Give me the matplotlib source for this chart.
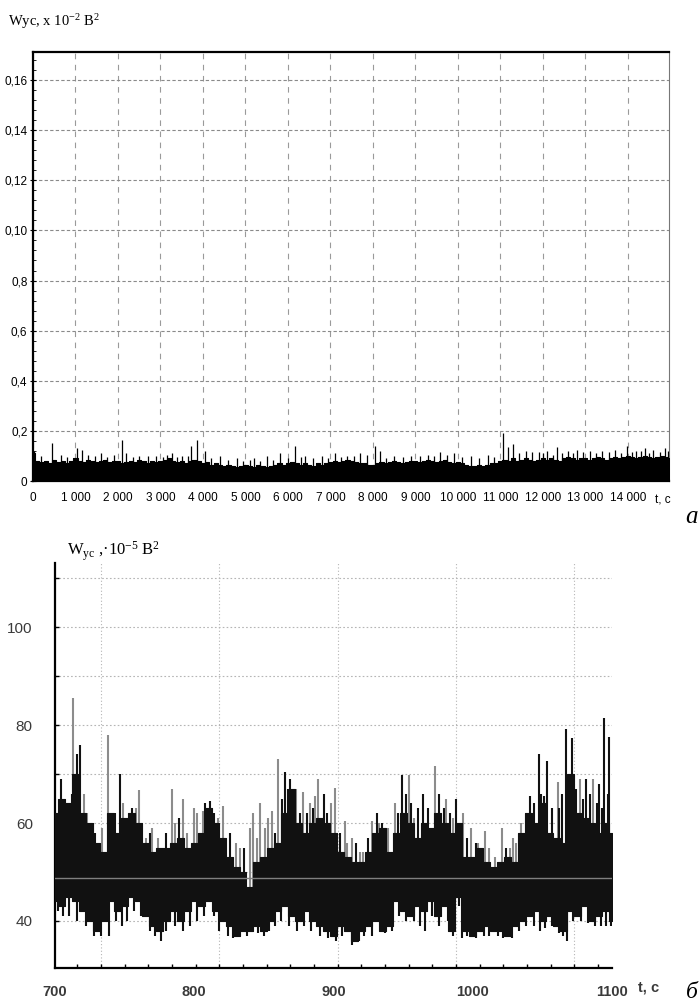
import numpy as np
import matplotlib.pyplot as plt

plt.rcParams['mathtext.fontset'] = 'custom'
plt.rcParams['mathtext.rm'] = 'Liberation Serif'
plt.rcParams['mathtext.it'] = 'Liberation Serif:italic'

# ---- panel a: W_yc over the whole record (axis units: the "0,2" grid line = 20)
step_a = 100
t_a = np.arange(0, 15001, step_a)
w_a = [11, 8, 7.5, 8, 7, 8.5, 7.5, 8, 7, 8,
       9, 8, 7.5, 8.5, 8, 7.5, 8, 8.5, 7.5, 8,
       8, 7, 7.5, 8, 7.5, 8.5, 8, 7, 8, 7.5,
       8, 8.5, 9, 8, 7.5, 8, 7, 8, 8.5, 8,
       7, 7.5, 6.5, 7, 6.5, 6, 6.5, 6, 5.5, 6,
       6.5, 6, 5.5, 6.5, 6, 5.5, 6, 6.5, 7, 6.5,
       7, 7.5, 7, 6.5, 7, 6.5, 6, 7, 6.5, 7,
       7.5, 8, 7.5, 8, 8.5, 8, 7.5, 7, 7, 6.5,
       6.5, 7, 7.5, 7, 7.5, 8, 7.5, 7, 7.5, 8,
       8, 7.5, 8, 8.5, 8, 7.5, 8, 8.5, 7.5, 7,
       7.5, 7, 6.5, 6, 6, 6.5, 6, 6.5, 7, 7,
       8, 8.5, 8, 9, 8, 8.5, 9, 8.5, 8, 8.5,
       9, 8.5, 9, 8.5, 8, 9, 9.5, 9, 8.5, 9,
       9, 8.5, 9, 9.5, 9, 8.5, 9, 9.5, 9, 9.5,
       10, 9.5, 9, 9.5, 10, 9.5, 9, 9.5, 10, 9.5, 9]
spk_a_t = [30, 450, 1035, 1150, 1300, 1600, 2090, 2190, 2500, 2900, 3260, 3500,
           3730, 3870, 4050, 4400, 4800, 5200, 5500, 5810, 6160, 6400, 6800,
           7100, 7400, 7700, 8050, 8170, 8500, 8900, 9300, 9580, 9900, 10300,
           10700, 11060, 11180, 11300, 11600, 11900, 12100, 12330, 12600,
           12800, 13100, 13400, 13700, 13980, 14200, 14400, 14600, 14870, 14950,
           200, 650, 800, 1450, 1750, 1900, 2350, 2700, 3050, 3150, 3400, 3650,
           4200, 4600, 4950, 5100, 5350, 5650, 6000, 6300, 6600, 6950, 7250,
           7550, 7850, 8300, 8700, 9100, 9450, 9750, 10100, 10500, 10850, 11450,
           11750, 12000, 12250, 12450, 12700, 12950, 13250, 13550, 13850, 14100,
           14300, 14500, 14750]
spk_a_v = [12, 15, 13, 12.5, 10.5, 11, 16.4, 11, 10, 10, 11, 10,
           14, 16.5, 12, 10, 9, 9, 10, 11, 14, 10, 10,
           11, 10, 11, 14, 12, 10, 10, 10.5, 11.5, 11, 10,
           10.5, 19, 13.5, 14.7, 12, 11.5, 12, 13.5, 12,
           12.5, 12, 12, 12.5, 14, 12, 13, 12.5, 13, 12,
           10, 10.5, 9.5, 10, 9.5, 10.5, 9.5, 10, 9.5, 10.5, 9.5, 10,
           9, 8.5, 8, 8.5, 8, 8.5, 9, 9.5, 9, 9, 9.5,
           10, 10.5, 9, 9.5, 10, 10, 10.5, 9.5, 9, 9.5, 11,
           11.5, 11, 10.5, 11, 11, 11.5, 11, 11.5, 11, 11.5,
           12, 11, 11.5]
yt_a = [0, 20, 40, 60, 80, 100, 120, 140, 160]
yl_a = ['0', '0,2', '0,4', '0,6', '0,8', '0,10', '0,12', '0,14', '0,16']
xt_a = list(range(0, 15000, 1000))
xl_a = ['0', '1 000', '2 000', '3 000', '4 000', '5 000', '6 000', '7 000',
        '8 000', '9 000', '10 000', '11 000', '12 000', '13 000', '14 000']

# ---- panel б: zoom 700..1100 s, units 10^-5 B^2
step_b = 5
t_b = np.arange(700, 1101, step_b)
up_b = [62, 65, 64, 70, 62, 60, 56, 54, 62, 58,
        61, 62, 60, 56, 54, 55, 55, 56, 57, 55,
        56, 58, 63, 60, 57, 53, 51, 50, 47, 52,
        53, 55, 56, 62, 67, 60, 58, 60, 61, 60,
        58, 54, 53, 52, 52, 54, 58, 59, 54, 58,
        62, 60, 57, 60, 59, 62, 60, 58, 60, 53,
        53, 55, 52, 51, 52, 53, 52, 58, 62, 60,
        64, 58, 57, 56, 70, 62, 61, 60, 58, 60, 58]
lo_b = [44, 43, 45, 44, 42, 40, 38, 40, 44, 42,
        43, 45, 44, 41, 39, 38, 40, 42, 40, 42,
        44, 43, 44, 42, 40, 39, 37, 38, 38, 39,
        38, 40, 42, 43, 41, 40, 42, 40, 39, 38,
        37, 39, 38, 36, 38, 39, 40, 38, 39, 44,
        42, 41, 43, 42, 44, 41, 43, 38, 45, 38,
        37, 38, 39, 38, 38, 37, 39, 40, 41, 42,
        40, 41, 39, 38, 42, 41, 43, 40, 41, 42, 40]
spk_b = [(704, 69, 'k'), (709, 64, 'g'), (713, 85.5, 'g'), (716, 74, 'k'),
         (718, 76, 'k'), (723, 62, 'g'), (727, 60, 'g'), (731, 56, 'g'),
         (734, 59, 'g'), (738, 78, 'g'), (743, 62, 'k'), (747, 70, 'k'),
         (755, 63, 'k'), (760, 66.7, 'g'), (765, 57, 'g'), (770, 59, 'g'),
         (784, 67, 'g'), (789, 61, 'k'), (792, 65, 'g'), (800, 63, 'g'),
         (802, 62, 'g'), (806, 62.5, 'g'), (811, 64.4, 'k'), (821, 63.5, 'g'),
         (826, 58, 'k'), (833, 55, 'g'), (840, 59, 'g'), (842, 62, 'g'),
         (847, 64, 'g'), (851, 59, 'g'), (853, 61, 'g'), (856, 62.4, 'g'),
         (860, 73, 'g'), (865, 70.5, 'k'), (869, 69, 'k'), (873, 67, 'g'),
         (878, 66.4, 'g'), (883, 64, 'g'), (887, 65.5, 'g'), (889, 69, 'g'),
         (893, 66, 'k'), (898, 64, 'g'), (901, 67.2, 'g'), (908, 60.5, 'g'),
         (913, 57, 'g'), (919, 54, 'g'), (921, 54, 'g'), (928, 60.5, 'g'),
         (933, 60, 'g'), (935, 60, 'k'), (944, 64, 'g'), (949, 69.8, 'k'),
         (954, 69.8, 'g'), (958, 61, 'g'), (964, 66, 'k'), (973, 71.7, 'g'),
         (976, 66, 'k'), (981, 65, 'g'), (984, 62, 'k'), (988, 65, 'k'),
         (993, 62, 'g'), (999, 59, 'g'), (1004, 56, 'g'), (1009, 58.4, 'g'),
         (1016, 53, 'g'), (1021, 59, 'g'), (1027, 55, 'g'), (1031, 56, 'g'),
         (1033, 55, 'g'), (1037, 57, 'g'), (1041, 65.6, 'k'), (1047.5, 74, 'k'),
         (1051, 65.6, 'k'), (1053.5, 72.7, 'k'), (1061, 68.4, 'g'), (1062, 63, 'k'),
         (1067, 79.3, 'k'), (1071, 77.3, 'k'), (1077, 69, 'g'), (1081, 69, 'k'),
         (1086, 69, 'g'), (1091, 68, 'k'), (1094.5, 81.5, 'k'), (1098, 77.6, 'k'),
         (712, 66, 'k'), (721, 66, 'g'), (729, 58, 'k'), (749, 64, 'g'),
         (758, 63, 'g'), (762, 60, 'k'), (768, 58, 'k'), (774, 57, 'g'),
         (780, 58, 'k'), (786, 60, 'g'), (795, 58, 'g'), (808, 64, 'k'),
         (814, 62, 'k'), (817, 61, 'g'), (830, 56, 'g'), (836, 55, 'k'),
         (845, 57, 'g'), (858, 58, 'k'), (863, 65, 'k'), (867, 67, 'k'),
         (876, 62, 'k'), (881, 62, 'k'), (885, 63, 'k'), (895, 62, 'k'),
         (905, 58, 'k'), (910, 56, 'g'), (916, 56, 'k'), (925, 57, 'k'),
         (931, 62, 'k'), (939, 59, 'g'), (946, 62, 'k'), (952, 66, 'k'),
         (956, 64, 'k'), (961, 63, 'k'), (968, 63, 'k'), (979, 63, 'k'),
         (986, 61, 'g'), (996, 57, 'k'), (1002, 56, 'k'), (1012, 55, 'g'),
         (1024, 55, 'k'), (1029, 57, 'g'), (1035, 60, 'g'), (1039, 62, 'k'),
         (1044, 64, 'k'), (1049, 66, 'k'), (1057, 63, 'k'), (1064, 66, 'k'),
         (1069, 70, 'k'), (1074, 67, 'k'), (1079, 65, 'k'), (1084, 66, 'k'),
         (1089, 64, 'k'), (1093, 63, 'k'), (1097, 66, 'k')]
dip_b = [(706, 41), (739, 37), (752, 40), (776, 36), (797, 39), (838, 37),
         (862, 40), (913, 35), (937, 37.5), (966, 38), (992, 36.5), (1018, 37),
         (1044, 39), (1065, 37), (1088, 39),
         (702, 42), (710, 41), (716, 40), (722, 39), (728, 37), (733, 37),
         (744, 40), (748, 39), (757, 42), (762, 41), (768, 38), (772, 37),
         (780, 38), (786, 39), (792, 38), (802, 40), (807, 41), (814, 41),
         (818, 38), (824, 37), (828, 36.5), (832, 37), (846, 37.5), (850, 37),
         (854, 38), (858, 39), (868, 39), (874, 38), (879, 39), (884, 38),
         (890, 37), (896, 36.5), (902, 36), (906, 37), (918, 36), (922, 37),
         (928, 37), (942, 38), (947, 41), (952, 40), (958, 40), (962, 39),
         (971, 41), (976, 39), (982, 40), (986, 37), (990, 43), (996, 37),
         (1002, 36.5), (1008, 37), (1012, 37), (1022, 36.5), (1028, 36.5),
         (1033, 38), (1038, 39), (1048, 38), (1052, 38.5), (1057, 39),
         (1062, 37.5), (1068, 36), (1072, 40), (1078, 40), (1083, 39.5),
         (1092, 39), (1096, 39), (1099, 39)]
mean_b = 48.8
grid_x_b = [733, 818, 903, 988, 1073]
minor_x_b = [716, 733, 750, 767, 784, 801, 818, 835, 852, 869, 886, 903, 920,
             937, 954, 971, 988, 1005, 1022, 1039, 1056, 1073, 1090]
yt_b = [40, 50, 60, 70, 80, 90, 100, 110]
yl_b = ['40', '', '60', '', '80', '', '100', '']
xt_b = [700, 800, 900, 1000, 1100]

fig = plt.figure(figsize=(7, 10.05), dpi=100)

# ---------------- panel a
ax1 = fig.add_axes([33 / 700, 1 - 481 / 1005, 636 / 700, 429 / 1005])
ax1.vlines(spk_a_t, 0, spk_a_v, color='black', lw=0.9, zorder=3)
ax1.fill_between(t_a, 0, w_a, color='black', lw=0, step='mid', zorder=3)
ax1.plot(t_a, w_a, color='black', lw=0.8, drawstyle='steps-mid', zorder=3)
ax1.set_xlim(0, 14970)
ax1.set_ylim(0, 171.2)
ax1.set_xticks(xt_a)
ax1.set_xticklabels(xl_a, family='Liberation Sans', fontsize=8.5)
ax1.set_yticks(yt_a)
ax1.set_yticklabels(yl_a, family='Liberation Sans', fontsize=8.5)
ax1.set_xticks(np.arange(0, 15000, 200), minor=True)
ax1.set_yticks(np.arange(0, 170, 4), minor=True)
ax1.tick_params(which='major', direction='in', length=4, width=0.8, pad=8)
ax1.tick_params(axis='y', which='major', pad=2, direction='inout')
ax1.tick_params(which='minor', direction='in', length=2, width=0.6)
ax1.grid(axis='y', which='major', linestyle=(0, (3, 2)), color='#8a8a8a', lw=0.8)
ax1.grid(axis='x', which='major', linestyle=(0, (5, 5)), color='#9a9a9a', lw=0.8)
for s in ['left', 'bottom', 'top']:
    ax1.spines[s].set_linewidth(1.6)
ax1.spines['right'].set_linewidth(0.8)
ax1.spines['right'].set_color('#777777')
ax1.text(0.978, -0.045, 't, c', transform=ax1.transAxes, ha='left', va='center',
         family='Liberation Sans', fontsize=8.5)
fig.text(8 / 700, 1 - 22 / 1005, 'Wус, х 10$^{-2}$ В$^{2}$', family='Liberation Serif',
         fontsize=10.5, ha='left', va='center')
fig.text(692 / 700, 1 - 517 / 1005, 'а', family='Liberation Serif', style='italic',
         fontsize=18, ha='center', va='center')

# ---------------- panel б
ax2 = fig.add_axes([55 / 700, 1 - 968 / 1005, 557 / 700, 405 / 1005])
ax2.set_xlim(700, 1100)
ax2.set_ylim(30.4, 113.1)
for gx in grid_x_b:
    ax2.axvline(gx, color='#b5b5b5', lw=0.8, linestyle=(0, (1, 2)), zorder=1)
for gy in yt_b:
    ax2.axhline(gy, color='#b5b5b5', lw=0.8, linestyle=(0, (1.5, 2)), zorder=1)
for t, v, c in spk_b:
    ax2.vlines(t, 46, v, color='#8c8c8c' if c == 'g' else '#111111', lw=1.5, zorder=2)
for t, v in dip_b:
    ax2.vlines(t, 46, v, color='#111111', lw=1.5, zorder=2)
ax2.fill_between(t_b, lo_b, up_b, color='#111111', lw=0.8, step='mid', zorder=3)
ax2.axhline(mean_b, color='#808080', lw=1.0, zorder=4)
ax2.set_xticks(xt_b)
ax2.set_xticklabels([str(x) for x in xt_b], family='Liberation Sans', fontsize=10.5,
                    color='#3a3a3a', weight='bold')
ax2.set_yticks(yt_b)
ax2.set_yticklabels(yl_b, family='Liberation Sans', fontsize=11, color='#3a3a3a')
ax2.set_xticks(minor_x_b, minor=True)
ax2.tick_params(axis='x', which='major', length=0, pad=12)
ax2.tick_params(axis='x', which='minor', direction='in', length=3, width=1.0)
ax2.tick_params(axis='y', which='major', direction='in', length=3, width=1.0, pad=16)
for s in ['top', 'right']:
    ax2.spines[s].set_visible(False)
for s in ['left', 'bottom']:
    ax2.spines[s].set_linewidth(1.6)
fig.text(638 / 700, 1 - 987 / 1005, 't, c', family='Liberation Sans', fontsize=10.5,
         color='#3a3a3a', weight='bold', ha='left', va='center')
fig.text(67 / 700, 1 - 551 / 1005, 'W$_{\\mathrm{ус}}$ ,·10$^{-5}$ В$^{2}$',
         family='Liberation Serif', fontsize=12, ha='left', va='center')
fig.text(692 / 700, 1 - 992 / 1005, 'б', family='Liberation Serif', style='italic',
         fontsize=17, ha='center', va='center')

fig.savefig('out.png', dpi=100)
